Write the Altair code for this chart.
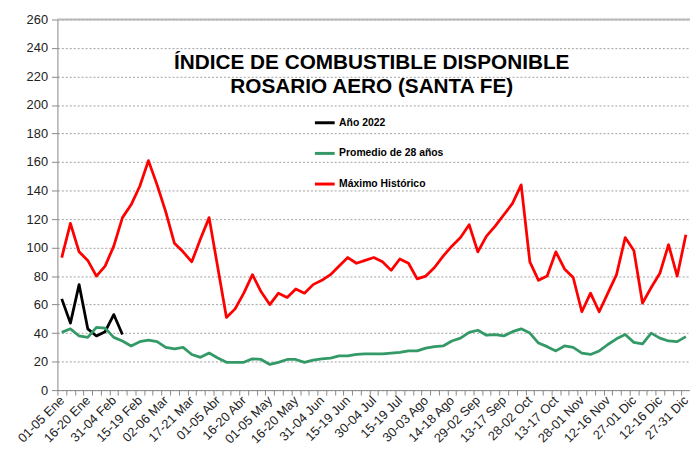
import json
import altair as alt
import pandas as pd

categories = [
    "01-05 Ene", "06-10 Ene", "11-15 Ene", "16-20 Ene", "21-25 Ene", "26-30 Ene",
    "31-04 Feb", "05-09 Feb", "10-14 Feb", "15-19 Feb", "20-24 Feb", "25-01 Mar",
    "02-06 Mar", "07-11 Mar", "12-16 Mar", "17-21 Mar", "22-26 Mar", "27-31 Mar",
    "01-05 Abr", "06-10 Abr", "11-15 Abr", "16-20 Abr", "21-25 Abr", "26-30 Abr",
    "01-05 May", "06-10 May", "11-15 May", "16-20 May", "21-25 May", "26-30 May",
    "31-04 Jun", "05-09 Jun", "10-14 Jun", "15-19 Jun", "20-24 Jun", "25-29 Jun",
    "30-04 Jul", "05-09 Jul", "10-14 Jul", "15-19 Jul", "20-24 Jul", "25-29 Jul",
    "30-03 Ago", "04-08 Ago", "09-13 Ago", "14-18 Ago", "19-23 Ago", "24-28 Ago",
    "29-02 Sep", "03-07 Sep", "08-12 Sep", "13-17 Sep", "18-22 Sep", "23-27 Sep",
    "28-02 Oct", "03-07 Oct", "08-12 Oct", "13-17 Oct", "18-22 Oct", "23-27 Oct",
    "28-01 Nov", "02-06 Nov", "07-11 Nov", "12-16 Nov", "17-21 Nov", "22-26 Nov",
    "27-01 Dic", "02-06 Dic", "07-11 Dic", "12-16 Dic", "17-21 Dic", "22-26 Dic",
    "27-31 Dic",
]

anio_2022 = [64, 47, 74, 43, 38, 41, 53, 39]

promedio_28 = [
    40.5, 43, 38, 37, 44, 43.5, 37, 34.5, 31, 34, 35, 34, 30, 29, 30, 25, 23, 26,
    22.5, 19.5, 19.5, 19.5, 22, 21.5, 18, 19.5, 21.5, 21.5, 19.5, 21, 22, 22.5, 24,
    24, 25, 25.5, 25.5, 25.5, 26, 26.5, 27.5, 27.5, 29.5, 30.5, 31, 34.5, 36.5, 40.5,
    42, 38.5, 39, 38, 41, 43, 40, 33, 30.5, 27.5, 31, 30, 26, 25, 27.5, 32, 36, 39,
    33.5, 32.5, 40, 36.5, 34.5, 34, 37.5,
]

maximo_hist = [
    93, 117, 97, 91, 80, 87, 101, 121, 130, 143, 161, 144, 125, 103, 97, 90, 106,
    121, 86, 51, 57, 68, 81, 69, 60, 68, 65, 71, 68, 74, 77, 81, 87, 93, 89, 91, 93,
    90, 84, 92, 89, 78, 80, 86, 94, 101, 107, 116, 97, 108, 115, 123, 131, 144, 90,
    77, 80, 97, 85, 79, 55, 68, 55, 68, 81, 107, 98, 61, 72, 82, 102, 80, 109,
]

series_names = ["Año 2022", "Promedio de 28 años", "Máximo Histórico"]
series_colors = ["#000000", "#339966", "#FF0000"]
title_lines = ["ÍNDICE DE COMBUSTIBLE DISPONIBLE", "ROSARIO AERO (SANTA FE)"]
y_ticks = list(range(0, 261, 20))
y_top = [260]

rows = []
for name, vals in zip(series_names, [anio_2022, promedio_28, maximo_hist]):
    for cat, v in zip(categories, vals):
        rows.append({"periodo": cat, "serie": name, "valor": v})
df = pd.DataFrame(rows)

FONT = "Liberation Sans"
W, H = 640, 375
STEP = 8.77
shown = categories[::3]
label_expr = "indexof(" + json.dumps(shown) + ", datum.value) >= 0 ? datum.value : ''"

x_enc = alt.X(
    "periodo:N",
    sort=categories,
    bandPosition=0.5,
    scale=alt.Scale(type="band", domain=categories, range=[0, STEP * len(categories)],
                    paddingInner=0, paddingOuter=0),
    axis=alt.Axis(
        title=None, tickBand="extent", labelExpr=label_expr, labelAngle=315,
        labelAlign="right", labelBaseline="middle", labelFont=FONT, labelFontSize=13,
        labelColor="#222222", labelPadding=3, labelOverlap=False, labelBound=False,
        tickSize=5, tickColor="#888888", domain=True, domainColor="#888888",
        domainWidth=1, ticks=True, grid=False,
    ),
)

y_axis = alt.Axis(
    title=None, values=y_ticks, grid=True, gridDash=[2, 2], gridColor="#a0a0a0",
    ticks=True, tickSize=6, tickColor="#888888", domain=True, domainColor="#888888",
    labelFont=FONT, labelFontSize=13, labelColor="#222222", labelPadding=4,
)
y_enc = alt.Y("valor:Q", scale=alt.Scale(domain=[0, 260], nice=False), axis=y_axis)

lines = alt.Chart(df).mark_line(strokeWidth=2.8, strokeJoin="round").encode(
    x=x_enc,
    y=y_enc,
    color=alt.Color(
        "serie:N",
        scale=alt.Scale(domain=series_names, range=series_colors),
        legend=alt.Legend(
            title=None, orient="none", legendX=259, legendY=93, symbolType="stroke",
            symbolSize=400, symbolStrokeWidth=3, labelFont=FONT, labelFontSize=10.5,
            labelFontWeight="bold", labelColor="#000000", rowPadding=13, padding=0,
            labelOffset=3,
        ),
    ),
)

top_rule = alt.Chart(pd.DataFrame({"valor": y_top})).mark_rule(
    color="#b8b8b8", strokeWidth=2
).encode(y=y_enc)

t1 = alt.Chart(pd.DataFrame({"t": [title_lines[0]]})).mark_text(
    font=FONT, fontSize=21, fontWeight="bold", align="center", baseline="alphabetic",
    color="#000000",
).encode(text="t:N", x=alt.value(318), y=alt.value(50))

t2 = alt.Chart(pd.DataFrame({"t": [title_lines[1]]})).mark_text(
    font=FONT, fontSize=21, fontWeight="bold", align="center", baseline="alphabetic",
    color="#000000",
).encode(text="t:N", x=alt.value(318), y=alt.value(74))

chart = alt.layer(lines, top_rule, t1, t2).properties(
    width=W, height=H,
    autosize=alt.AutoSizeParams(type="none"),
    padding={"left": 50, "top": 9, "right": 0, "bottom": 61},
).configure_view(stroke=None)

chart.save("out.html", embed_options={"renderer": "svg", "actions": False})
